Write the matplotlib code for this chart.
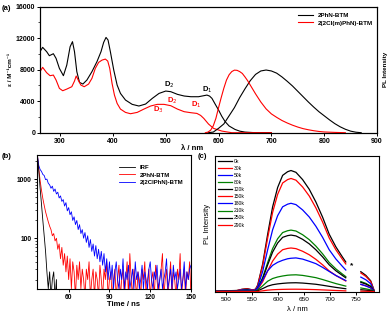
import matplotlib
matplotlib.use("Agg")
import matplotlib.pyplot as plt
from matplotlib.ticker import MultipleLocator, NullFormatter
import numpy as np

plt.rcParams['font.family'] = ['Liberation Sans', 'DejaVu Sans']

# ---- (a) absorption + emission ----
abs_black_nm = [260, 267, 274.6, 279.7, 287.3, 292.4, 298.7, 306.3, 312.7, 319, 323.5, 327.3, 331.7,
                336.8, 343.2, 350.8, 360.3, 369.8, 377.5, 382.5, 387, 390.8, 395.2, 401.6, 408, 414.3,
                423.8, 436.5, 449.2, 461.9, 474.6, 487.3, 500, 509.5, 522.2, 534.9, 547.6, 562,
                572, 578, 583, 587.5, 593, 600, 606, 612.5, 620, 631, 640, 650, 665, 700]
abs_black = [10070, 10840, 10290, 9780, 10030, 9440, 8170, 7240, 8590, 10920, 11560, 10290, 7750,
             6390, 6180, 6690, 7750, 9020, 10290, 11470, 12100, 11770, 10290, 7960, 6050, 4990,
             4150, 3600, 3390, 3640, 4360, 4990, 5290, 5210, 4870, 4660, 4570, 4570,
             4700, 4780, 4650, 4360, 3700, 2880, 2100, 1400, 850, 420, 200, 80, 20, 0]

abs_red_nm = [260, 267, 274.6, 281, 287.3, 292.4, 298.7, 305, 312.7, 322.2, 327.3, 330.5, 334.3,
              339.4, 345.7, 354, 360.3, 366.7, 373, 379.4, 385.7, 390.2, 394, 398.4, 402.9, 408,
              414.3, 423.8, 433.3, 446, 458.7, 471.4, 484, 496.8, 509.5, 522.2, 534.9, 547.6, 559,
              566, 572, 581, 590.6, 606, 625, 700]
abs_red = [7530, 8300, 7620, 7240, 7320, 6690, 5630, 5330, 5540, 5840, 6560, 7200, 6690,
           6050, 5840, 6180, 6900, 8170, 8930, 9220, 9350, 9100, 8170, 6260, 4780, 3720,
           3000, 2580, 2410, 2580, 3000, 3390, 3600, 3600, 3430, 3000, 2670, 2540, 2450,
           2200, 1820, 1100, 550, 210, 0, 0]

pl_black_nm = [580, 590, 600, 610, 620, 630, 640, 650, 660, 670, 680, 690, 700, 710, 720, 730, 740,
               750, 760, 770, 780, 790, 800, 810, 820, 830, 840, 850, 860, 870]
pl_black = [0, 0.01, 0.07, 0.14, 0.27, 0.40, 0.56, 0.70, 0.83, 0.93, 0.985, 1.0, 0.985, 0.95, 0.89,
            0.82, 0.745, 0.66, 0.575, 0.49, 0.41, 0.335, 0.27, 0.205, 0.145, 0.095, 0.055, 0.025,
            0.008, 0]

pl_red_nm = [575, 580, 585, 590, 595, 600, 605, 610, 615, 620, 625, 630, 635, 640, 645, 650, 655,
             660, 665, 670, 680, 690, 700, 710, 720, 730, 740, 750, 760, 770, 780, 790, 800, 820, 840]
pl_red = [0, 0.01, 0.04, 0.11, 0.23, 0.40, 0.56, 0.71, 0.84, 0.925, 0.975, 0.998, 0.995, 0.975,
          0.945, 0.89, 0.83, 0.76, 0.69, 0.62, 0.49, 0.38, 0.30, 0.245, 0.195, 0.155, 0.12, 0.09,
          0.065, 0.047, 0.032, 0.02, 0.012, 0.005, 0]

# ---- (b) decay traces (counts, 1 ns bins starting at 37 ns) ----
irf = [2500, 1400, 700, 380, 200, 110, 60, 27, 14, 27, 10, 20, 27, 10, 20, 1]
decay_red = [2600, 1500, 950, 650, 470, 360, 280, 230, 190, 160, 140, 110, 120, 90, 100, 65, 80,
             45, 70, 35, 55, 27, 50, 20, 45, 14, 40, 27, 10, 35, 20, 40, 14, 30,
             20, 10, 30, 20, 40, 10, 20, 30, 10, 27, 20, 10, 35, 20, 10, 30, 20, 40, 10, 20,
             27, 10, 20, 30, 10, 20, 35, 10, 20, 30, 10, 20, 40, 10, 55, 20, 10, 30, 20, 10,
             27, 20, 10, 30, 20, 40, 10, 20, 30, 10, 20, 27, 10, 35, 20, 10, 20, 30, 55, 10,
             20, 30, 10, 20, 40, 10, 27, 20, 10, 30, 20, 55, 10, 20, 30, 10, 27, 20, 40, 10]
decay_blue = [2500, 1700, 1450, 1350, 1200, 1150, 980, 1000, 850, 800, 700, 760, 620, 680, 560,
              600, 480, 520, 420, 450, 350, 400, 290, 330, 250, 280, 200, 230, 170, 200, 140,
              170, 120, 140, 100, 125, 85, 110, 70, 95, 60, 80, 50, 75, 45, 65, 40, 60, 35, 55,
              27, 45, 20, 40,
              20, 35, 14, 27, 40, 20, 14, 30, 20, 45, 14, 27, 20, 35, 14, 20, 30, 14, 40, 20,
              27, 14, 20, 35, 14, 27, 20, 14, 30, 40, 20, 14, 27, 20, 35, 14, 20, 30, 14, 20,
              27, 45, 14, 20, 30, 14, 35, 20, 27, 14, 20, 30, 14, 20, 40, 14, 27, 20, 30, 35]

# ---- (c) temperature dependent PL ----
temps = ['0k', '30k', '50k', '80k', '120k', '150k', '180k', '210k', '250k', '290k']
t_colors = ['black', 'red', 'blue', 'green', 'black', 'red', 'blue', 'green', 'black', 'red']
t_peaks = [122, 114, 89, 62, 57, 44, 34, 17, 9, 2.5]
t_shape = [0, 0, 0, 0, 0, 0, 1, 1, 1, 1]
nan = float('nan')
prof_nm = [478, 520, 530, 540, 550, 556, 560.3, 569.9, 579.5, 589, 598.7, 608.3, 617.9, 624.4,
           634, 646.8, 659.6, 672.4, 685.3, 698, 710.9, 723.7, 730, 745, 759, 768.6, 778, 784.6]
prof_hi = [0.005, 0.01, 0.02, 0.025, 0.015, 0.02, 0.055, 0.23, 0.475, 0.70, 0.86, 0.96, 0.99,
           1.0, 0.985, 0.925, 0.845, 0.74, 0.615, 0.475, 0.37, 0.285, 0.245, nan, 0.165, 0.135,
           0.09, 0.01]
prof_lo = [0.005, 0.01, 0.02, 0.025, 0.015, 0.03, 0.10, 0.35, 0.62, 0.78, 0.87, 0.93, 0.975,
           0.99, 1.0, 0.965, 0.9, 0.83, 0.72, 0.6, 0.48, 0.38, 0.33, nan, 0.22, 0.17, 0.11, 0.01]

fig = plt.figure(figsize=(3.91, 3.15), dpi=100)

def style(ax, size):
    for s in ax.spines.values():
        s.set_linewidth(0.8)
    ax.tick_params(labelsize=size, width=0.7, length=2, pad=1.5)
    ax.tick_params(which='minor', width=0.5, length=1.2)
    for lab in ax.get_xticklabels() + ax.get_yticklabels():
        lab.set_fontweight('bold')

# (a)
ax = fig.add_axes([0.1023, 0.5787, 0.862, 0.400])
ax.plot(abs_black_nm, abs_black, color='black', lw=0.8, label='2PhN-BTM')
ax.plot(abs_red_nm, abs_red, color='red', lw=0.8, label='2(2Cl(m)PhN)-BTM')
ax.set_xlim(262, 900)
ax.set_ylim(0, 16000)
ax.set_yticks([0, 4000, 8000, 12000, 16000])
ax.set_xticks([300, 400, 500, 600, 700, 800, 900])
ax.yaxis.set_minor_locator(MultipleLocator(2000))
style(ax, 5)
ax.set_xlabel('λ / nm', fontsize=5.5, fontweight='bold', labelpad=1)
ax.xaxis.set_label_coords(0.45, -0.095)
ax.set_ylabel('ε / M⁻¹cm⁻¹', fontsize=4.5, fontweight='bold', labelpad=2)
ax.legend(loc='upper right', frameon=False, prop={'size': 4.5, 'weight': 'bold'},
          handlelength=2.4, borderaxespad=0.3, labelspacing=0.3, bbox_to_anchor=(1.0, 0.985))
for txt, x, y, c in [('D$_2$', 506, 6050, 'black'), ('D$_1$', 578, 5500, 'black'),
                     ('D$_2$', 513, 4060, 'red'), ('D$_3$', 485, 2880, 'red'),
                     ('D$_1$', 557, 3510, 'red')]:
    ax.text(x, y, txt, color=c, fontsize=5.5, fontweight='bold', ha='center', va='center')

ax2 = ax.twinx()
ax2.plot(pl_black_nm, pl_black, color='black', lw=0.8)
ax2.plot(pl_red_nm, pl_red, color='red', lw=0.8)
ax2.set_ylim(0, 2.01)
ax2.set_yticks([])
ax2.set_ylabel('PL Intensity', fontsize=4.5, fontweight='bold', labelpad=4)

# (b)
bx = fig.add_axes([0.0939, 0.0816, 0.3946, 0.4265])
t_red = np.arange(37, 37 + len(decay_red))
t_blue = np.arange(37, 37 + len(decay_blue))
t_irf = np.arange(37, 37 + len(irf))
l2, = bx.plot(t_red, decay_red, color='red', lw=0.6, label='2PhN-BTM')
l3, = bx.plot(t_blue, decay_blue, color='blue', lw=0.6, label='2(2ClPhN)-BTM')
l1, = bx.plot(t_irf, irf, color='black', lw=0.6, label='IRF')
bx.set_yscale('log')
bx.set_xlim(36.5, 150)
bx.set_ylim(13.7, 2560)
bx.set_xticks([60, 90, 120, 150])
bx.set_yticks([100, 1000])
bx.set_yticklabels(['100', '1000'])
bx.yaxis.set_minor_formatter(NullFormatter())
style(bx, 4.8)
bx.set_xlabel('Time / ns', fontsize=5.5, fontweight='bold', labelpad=2)
bx.xaxis.set_label_coords(0.56, -0.09)
bx.legend(handles=[l1, l2, l3], loc='upper right', frameon=False,
          prop={'size': 4.3, 'weight': 'bold'}, handlelength=2.6, labelspacing=0.35,
          borderaxespad=0.4, bbox_to_anchor=(0.98, 0.96))

# (c)
cx = fig.add_axes([0.5499, 0.074, 0.4194, 0.432])
for name, col, pk, sh in zip(temps, t_colors, t_peaks, t_shape):
    prof = prof_hi if sh == 0 else prof_lo
    cx.plot(prof_nm, [pk * v for v in prof], color=col, lw=0.9, label=name)
cx.set_xlim(478, 794)
cx.set_ylim(0, 137)
cx.set_yticks([])
cx.set_xticks([500, 550, 600, 650, 700, 750])
style(cx, 4.6)
for lab in cx.get_xticklabels():
    lab.set_fontweight('normal')
cx.set_xlabel('λ / nm', fontsize=5.5, labelpad=3)
cx.set_ylabel('PL Intensity', fontsize=5.5, labelpad=3)
cx.text(742, 26, '*', fontsize=6, fontweight='bold', ha='center', va='center')
cx.legend(loc='upper left', frameon=False, prop={'size': 3.6}, handlelength=2.8,
          labelspacing=0.42, borderaxespad=0.2, handletextpad=0.4)

fig.text(0.005, 0.985, '(a)', fontsize=5.5, fontweight='bold', va='top')
fig.text(0.005, 0.515, '(b)', fontsize=5.5, fontweight='bold', va='top')
fig.text(0.505, 0.515, '(c)', fontsize=5.5, fontweight='bold', va='top')

fig.savefig('out.png', dpi=100)
